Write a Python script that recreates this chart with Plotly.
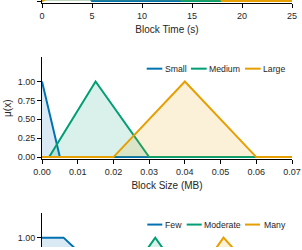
import plotly.graph_objects as go

# ---------------- data ----------------
# Panel 1: Block Time (s)
time_labels = ["Fast", "Normal", "Slow"]
time_fast_x = [0, 5, 25]
time_fast_y = [1, 0, 0]
time_normal_x = [0, 2, 8, 14, 25]
time_normal_y = [0, 0, 1, 0, 0]
time_slow_x = [0, 10, 14, 18, 25]
time_slow_y = [0, 0, 1, 0, 0]
time_ticks = [0, 5, 10, 15, 20, 25]

# Panel 2: Block Size (MB)
size_labels = ["Small", "Medium", "Large"]
size_small_x = [0, 0.005, 0.07]
size_small_y = [1, 0, 0]
size_medium_x = [0, 0.002, 0.015, 0.03, 0.07]
size_medium_y = [0, 0, 1, 0, 0]
size_large_x = [0, 0.02, 0.04, 0.06, 0.07]
size_large_y = [0, 0, 1, 0, 0]
size_ticks = [0, 0.01, 0.02, 0.03, 0.04, 0.05, 0.06, 0.07]

# Panel 3: transactions
tx_labels = ["Few", "Moderate", "Many"]
tx_few_x = [0, 8.6, 41, 100]
tx_few_y = [1, 1, 0, 0]
tx_mod_x = [0, 24, 45.3, 66.7, 100]
tx_mod_y = [0, 0, 1, 0, 0]
tx_many_x = [0, 51.2, 72.6, 94, 100]
tx_many_y = [0, 0, 1, 0, 0]

mu_ticks = [0, 0.25, 0.5, 0.75, 1.0]

# ---------------- style ----------------
W, H = 302, 250
ML, MR = 42, 10
PW = W - ML - MR
COLORS = ["#0072B2", "#009E73", "#E69F00"]
FILLS = ["rgba(0,114,178,0.15)", "rgba(0,158,115,0.15)", "rgba(230,159,0,0.15)"]
FONT = "Liberation Sans, Arial, Helvetica, sans-serif"
TXT = "#262626"


def fy(py):
    return (H - py) / H


def fx(px):
    return (px - ML) / PW


fig = go.Figure()

panels = [
    (time_labels, [(time_fast_x, time_fast_y), (time_normal_x, time_normal_y), (time_slow_x, time_slow_y)], "x", "y"),
    (size_labels, [(size_small_x, size_small_y), (size_medium_x, size_medium_y), (size_large_x, size_large_y)], "x2", "y2"),
    (tx_labels, [(tx_few_x, tx_few_y), (tx_mod_x, tx_mod_y), (tx_many_x, tx_many_y)], "x3", "y3"),
]

for labels, series, xa, ya in panels:
    for i, (name, (xs, ys)) in enumerate(zip(labels, series)):
        fig.add_trace(go.Scatter(
            x=xs, y=ys, name=name, mode="lines", xaxis=xa, yaxis=ya,
            line=dict(color=COLORS[i], width=2), fill="tozeroy",
            fillcolor=FILLS[i], showlegend=False, hoverinfo="skip",
        ))

SCALE = 76.5  # px per membership unit
ybot = -0.026

axis_common = dict(showgrid=False, zeroline=False, showline=True, linecolor="#000",
                   linewidth=1, ticks="outside", ticklen=4, tickcolor="#000",
                   tickfont=dict(size=9, color=TXT, family=FONT))

fig.update_layout(
    width=W, height=H, margin=dict(l=ML, r=MR, t=0, b=0),
    paper_bgcolor="white", plot_bgcolor="white",
    font=dict(family=FONT, color=TXT),
    showlegend=False,
    # panel 1 (only its bottom edge visible)
    xaxis=dict(axis_common, domain=[0, 1], range=[0, 25], anchor="y", tickvals=time_ticks,
               title=dict(text="Block Time (s)", font=dict(size=10, color=TXT), standoff=6)),
    yaxis=dict(axis_common, domain=[fy(3), 1], range=[ybot, ybot + 3 / SCALE], anchor="x",
               tickvals=mu_ticks, tickformat=".2f"),
    # panel 2
    xaxis2=dict(axis_common, domain=[0, 1], range=[0, 0.07], anchor="y2", tickvals=size_ticks,
                tickformat=".2f",
                title=dict(text="Block Size (MB)", font=dict(size=10, color=TXT), standoff=6)),
    yaxis2=dict(axis_common, domain=[fy(161), fy(58)], range=[ybot, ybot + 103 / SCALE],
                anchor="x2", tickvals=mu_ticks, tickformat=".2f",
                title=dict(text="μ(x)", font=dict(size=10, color=TXT), standoff=4)),
    # panel 3 (only its top visible)
    xaxis3=dict(domain=[0, 1], range=[0, 100], anchor="y3", showline=False, showgrid=False,
                zeroline=False, ticks="", showticklabels=False),
    yaxis3=dict(axis_common, domain=[0, fy(216)], range=[ybot + 103 / SCALE - 34 / SCALE, ybot + 103 / SCALE],
                anchor="x3", tickvals=mu_ticks, tickformat=".2f"),
)

# custom legends (short handles, like the reference)
legend_specs = [
    (size_labels, 69.5, [(146.7, 162.3, 163.5), (191, 206.7, 208), (245, 260.7, 262)]),
    (tx_labels, 227.3, [(147.3, 162.3, 164), (186.7, 201.7, 203.3), (245, 260, 262.7)]),
]
for labels, py, items in legend_specs:
    for i, (name, (x0, x1, xt)) in enumerate(zip(labels, items)):
        fig.add_shape(type="line", xref="paper", yref="paper", x0=fx(x0), x1=fx(x1),
                      y0=fy(py), y1=fy(py), line=dict(color=COLORS[i], width=2))
        fig.add_annotation(xref="paper", yref="paper", x=fx(xt), y=fy(py), text=name,
                           showarrow=False, xanchor="left", yanchor="middle",
                           font=dict(size=8.7, color=TXT, family=FONT), xshift=0,
                           borderpad=0)

fig.write_html("out.html")
